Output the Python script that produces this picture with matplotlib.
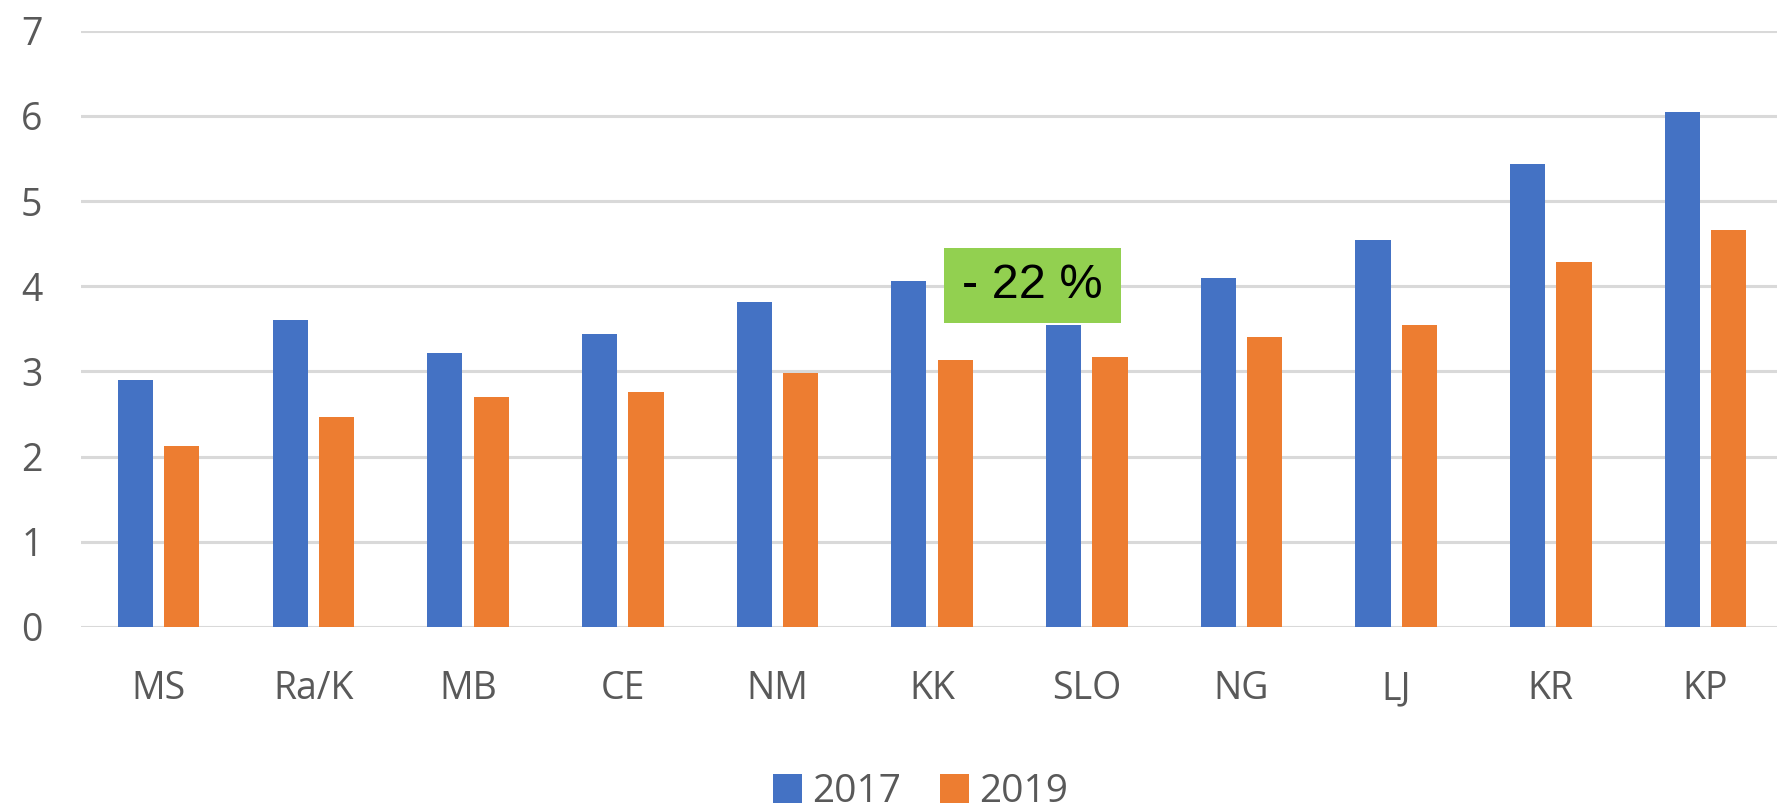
import numpy as np
import matplotlib.pyplot as plt
from matplotlib.patches import Rectangle

regije = ['MS', 'Ra/K', 'MB', 'CE', 'NM', 'KK', 'SLO', 'NG', 'LJ', 'KR', 'KP']
vrednosti_2017 = [2.90, 3.60, 3.22, 3.44, 3.81, 4.06, 3.54, 4.10, 4.54, 5.44, 6.05]
vrednosti_2019 = [2.12, 2.46, 2.70, 2.76, 2.98, 3.14, 3.17, 3.40, 3.54, 4.28, 4.66]
leta = ['2017', '2019']

MODRA = '#4472C4'
ORANZNA = '#ED7D31'
SIVA = '#595959'

plt.rcParams['font.family'] = ['Open Sans', 'DejaVu Sans']

fig = plt.figure(figsize=(17.77, 8.09), dpi=100)
ax = fig.add_axes([0.0458, 0.225, 0.9575, 0.737])

x = np.arange(len(regije))
sirina = 0.227
zamik = 0.15

ax.bar(x - zamik, vrednosti_2017, sirina, color=MODRA, label=leta[0], zorder=3)
ax.bar(x + zamik, vrednosti_2019, sirina, color=ORANZNA, label=leta[1], zorder=3)

ax.set_xlim(-0.5, len(regije) - 0.5)
ax.set_ylim(0, 7)
ax.set_yticks(range(0, 8))
ax.set_xticks(x)
ax.set_xticklabels(regije)

ax.grid(axis='y', color='#D9D9D9', linewidth=2.2, zorder=0)
for s in ax.spines.values():
    s.set_visible(False)
ax.tick_params(axis='both', length=0, labelsize=27, colors=SIVA)
ax.tick_params(axis='y', pad=28)
ax.tick_params(axis='x', pad=31)

# zelena oznaka
ax.add_patch(Rectangle((5.08, 3.57), 1.14, 0.88, facecolor='#92D050',
                       edgecolor='none', zorder=5))
ax.text(5.65, 4.01, '- 22 %', ha='center', va='center', fontsize=35,
        family='Liberation Sans', color='black', zorder=6)

fig.legend(loc='center', bbox_to_anchor=(0.518, 0.021), ncol=2, frameon=False,
           fontsize=28, labelcolor=SIVA, handlelength=0.75, handleheight=0.75,
           handletextpad=0.25, columnspacing=1.0)

fig.savefig('out.png', dpi=100)
